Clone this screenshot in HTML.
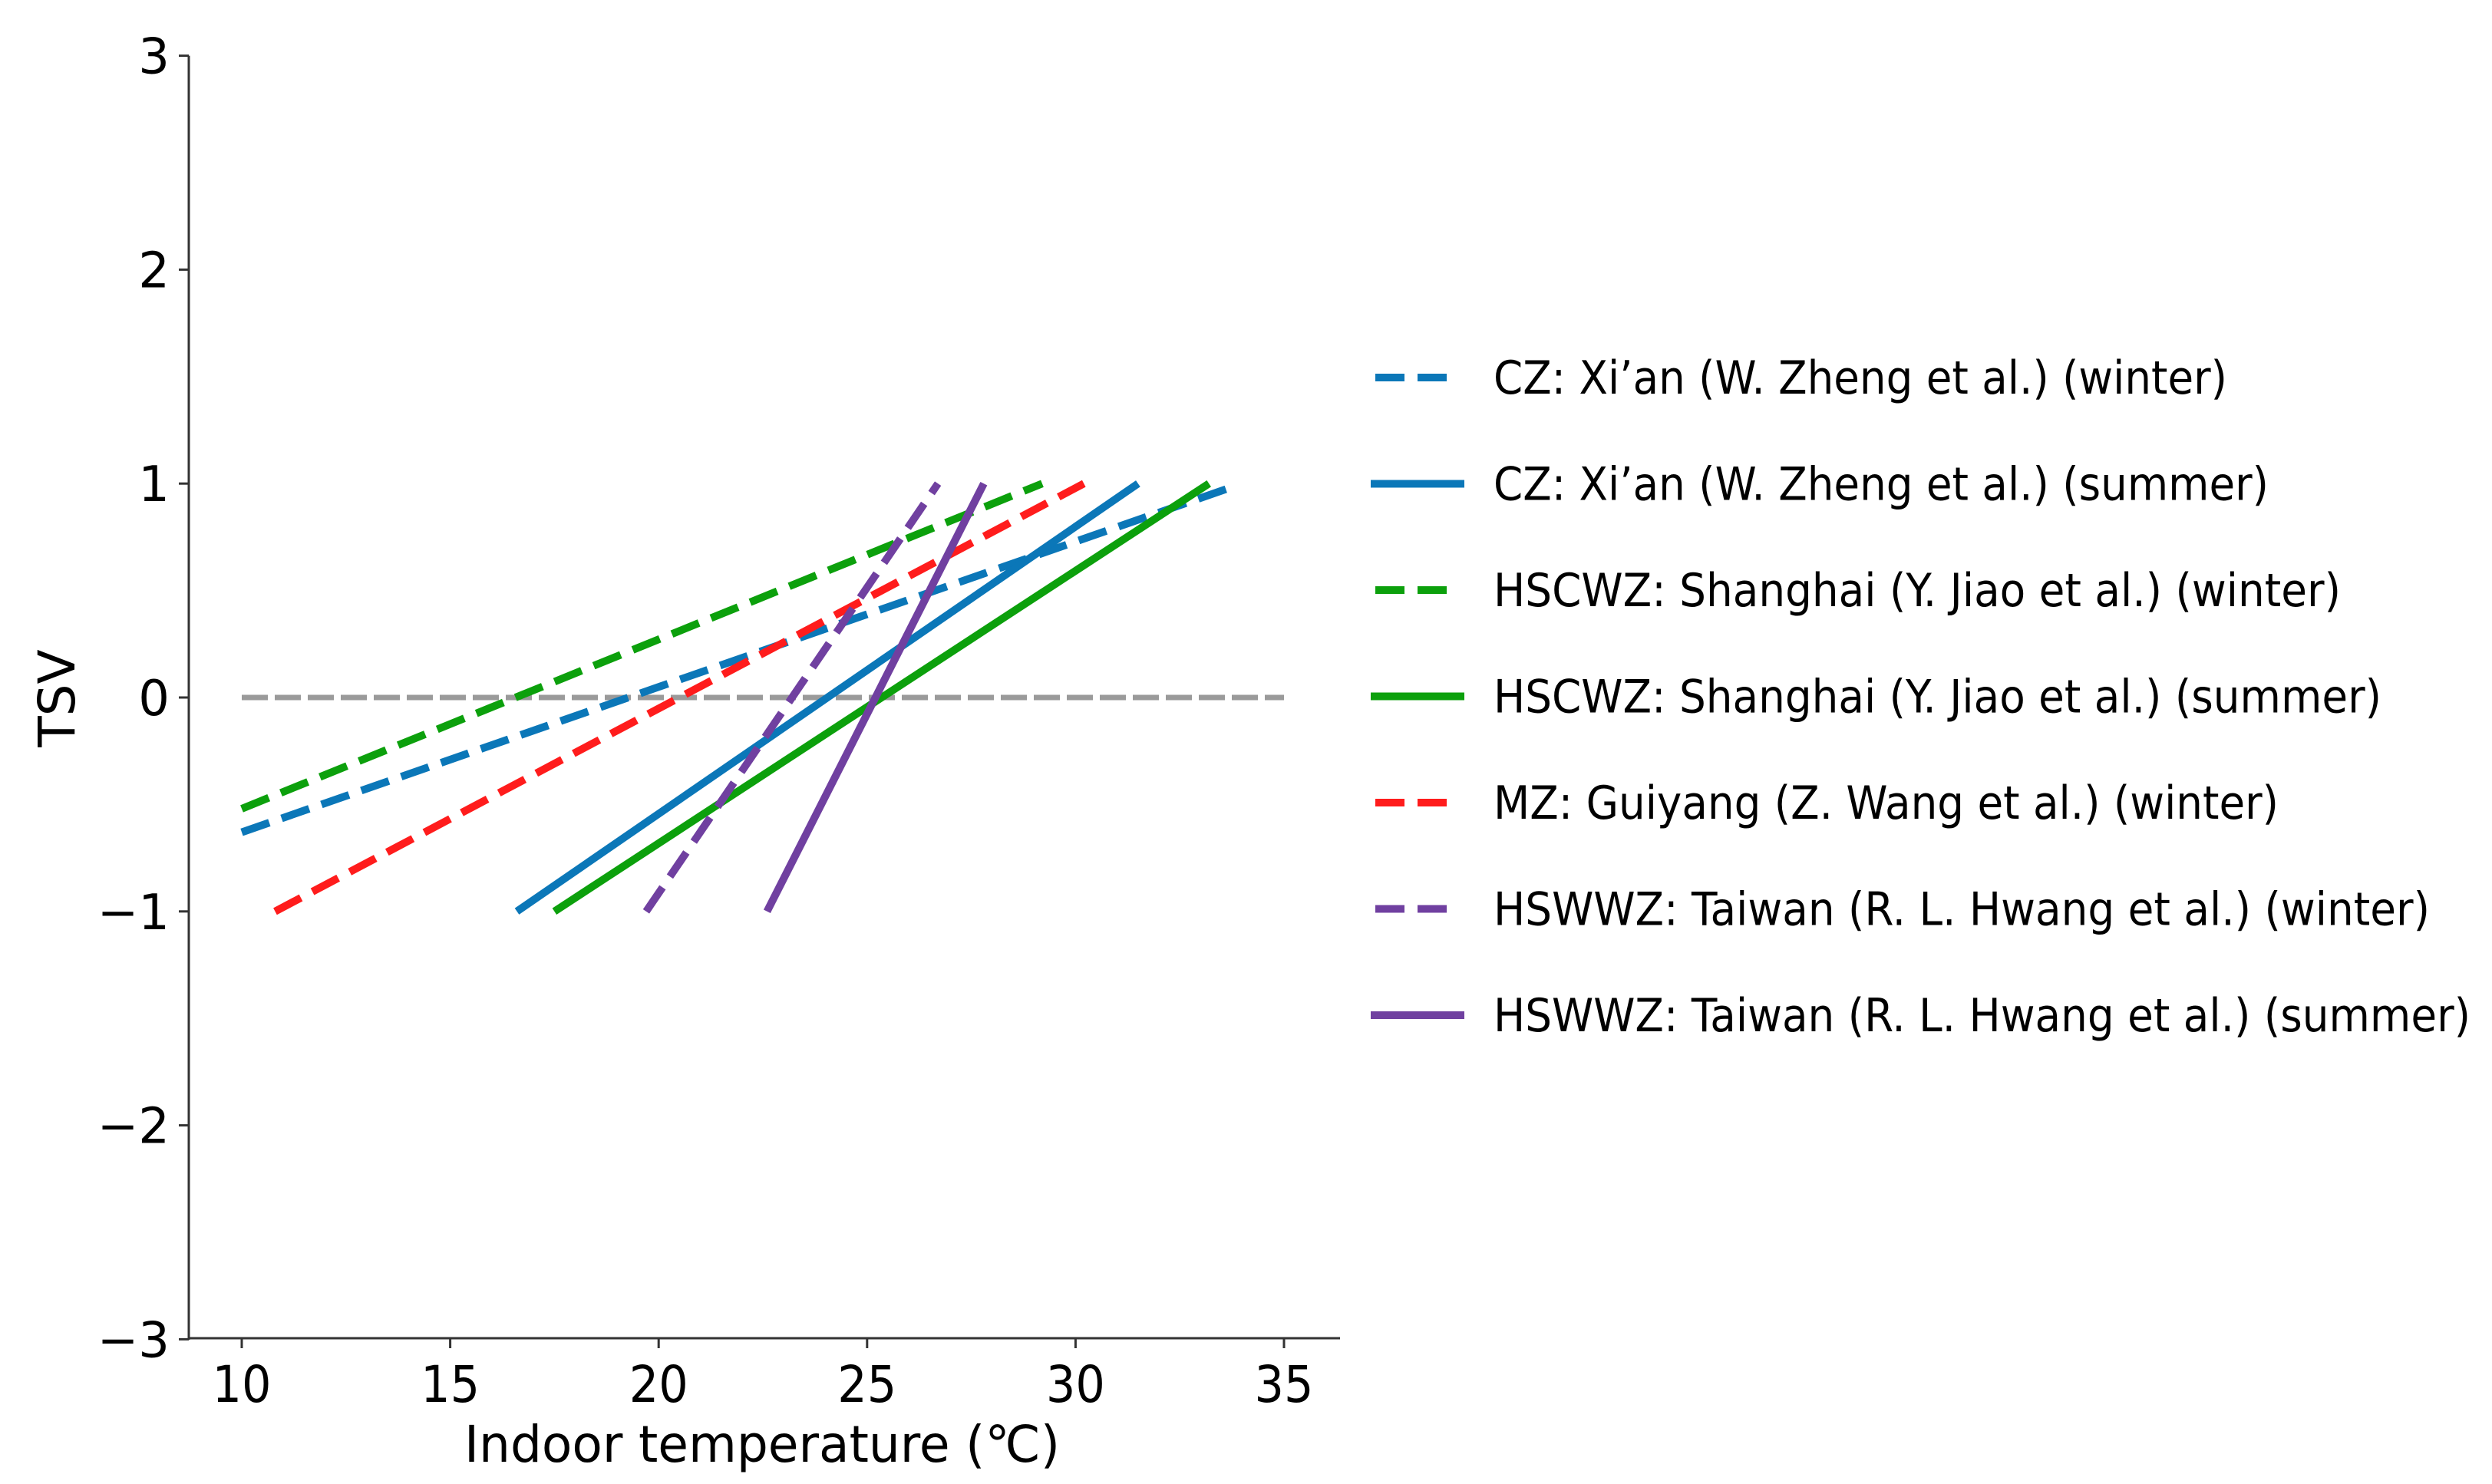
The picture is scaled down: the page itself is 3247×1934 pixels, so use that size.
<!DOCTYPE html>
<html><head><meta charset="utf-8"><style>
html,body{margin:0;padding:0;background:#fff;}
svg{display:block;font-family:"DejaVu Sans","Liberation Sans",sans-serif;}
</style></head><body>
<svg id="chart" width="3247" height="1934" viewBox="0 0 3247 1934" xmlns="http://www.w3.org/2000/svg">
<g id="axes"></g>
<g id="series"></g>
<g id="legend"></g>
<text x="993" y="1905" font-size="66" text-anchor="middle" textLength="776" lengthAdjust="spacingAndGlyphs">Indoor temperature (℃)</text>
<text x="0" y="0" font-size="66" text-anchor="middle" transform="translate(97,910) rotate(-90)">TSV</text>
</svg>
<script>
const xTicks = [10, 15, 20, 25, 30, 35];
const yTicks = [3, 2, 1, 0, -1, -2, -3];
const yTickLabels = ["3", "2", "1", "0", "\u22122", "\u22121".replace("1","2")==="" ? "" : "\u22121", "\u22122", "\u22123"];
const seriesNames = [
 "CZ: Xi\u2019an (W. Zheng et al.) (winter)",
 "CZ: Xi\u2019an (W. Zheng et al.) (summer)",
 "HSCWZ: Shanghai (Y. Jiao et al.) (winter)",
 "HSCWZ: Shanghai (Y. Jiao et al.) (summer)",
 "MZ: Guiyang (Z. Wang et al.) (winter)",
 "HSWWZ: Taiwan (R. L. Hwang et al.) (winter)",
 "HSWWZ: Taiwan (R. L. Hwang et al.) (summer)"];
const xStart = [10, 16.6, 10, 17.5, 10.8, 19.7, 22.6];
const yStart = [-0.63, -1, -0.52, -1, -1, -1, -1];
const xEnd = [33.7, 31.5, 29.2, 33.2, 30.2, 26.7, 27.8];
const yEnd = [0.98, 1, 1.0, 1, 1, 1, 1];
const colors = ["#0b77b8","#0b77b8","#0ca00c","#0ca00c","#ff1c1c","#7040a0","#7040a0"];
const dashed = [true,false,true,false,true,true,false];
const legendWidths = [956, 1010, 1104, 1157, 1023, 1220, 1273];
const zeroLineX = [10, 35];

const NS = "http://www.w3.org/2000/svg";
const X = v => 315 + (v - 10) * 54.32;
const Y = v => 909 - v * 278.8;
function mk(tag, attrs, parent){const e=document.createElementNS(NS,tag);for(const k in attrs)e.setAttribute(k,attrs[k]);parent.appendChild(e);return e;}
const axes=document.getElementById('axes'), series=document.getElementById('series'), legend=document.getElementById('legend');

let sp=mk('line',{x1:246,y1:Y(3),x2:246,y2:1746,stroke:'#333','stroke-width':3},axes);


let sp2=mk('line',{x1:244.5,y1:1744,x2:1746,y2:1744,stroke:'#333','stroke-width':3},axes);



const yLabs=["3","2","1","0","\u22121","\u22122","\u22123"];
yTicks.forEach((v,i)=>{
  const t=mk('line',{x1:233,y1:Y(v),x2:246,y2:Y(v),stroke:'#333','stroke-width':3},axes);
  
  
  const l=mk('text',{x:221,y:Y(v)+23,'font-size':64,'text-anchor':'end'},axes);
  
  
  l.textContent=yLabs[i];
});
xTicks.forEach(v=>{
  const t=mk('line',{x1:X(v),y1:1744,x2:X(v),y2:1757,stroke:'#333','stroke-width':3},axes);
  
  
  const l=mk('text',{x:X(v),y:1827,'font-size':66,'text-anchor':'middle',textLength:77,lengthAdjust:'spacingAndGlyphs'},axes);
  
  
  l.textContent=String(v);
});

const z=mk('line',{x1:X(zeroLineX[0]),y1:Y(0),x2:X(zeroLineX[1]),y2:Y(0),stroke:'#9a9a9a','stroke-width':7,'stroke-dasharray':'34 9'},series);



seriesNames.forEach((n,i)=>{
  const a={x1:X(xStart[i]),y1:Y(yStart[i]),x2:X(xEnd[i]),y2:Y(yEnd[i]),stroke:colors[i],'stroke-width':10};
  if(dashed[i]) a['stroke-dasharray']='38 17';
  const ln=mk('line',a,series);
  
  
  const ry=492+i*138.5;
  const g=mk('g',{},legend);
  
  
  const la={x1:dashed[i]?1792:1786,y1:ry,x2:dashed[i]?1902:1908,y2:ry,stroke:colors[i],'stroke-width':10};
  if(dashed[i]) la['stroke-dasharray']='38 17';
  const sw=mk('line',la,g);
  
  
  const tx=mk('text',{x:1946,y:ry+21,'font-size':60,textLength:legendWidths[i],lengthAdjust:'spacingAndGlyphs'},g);
  
  
  tx.textContent=n;
});
</script>
</body></html>
